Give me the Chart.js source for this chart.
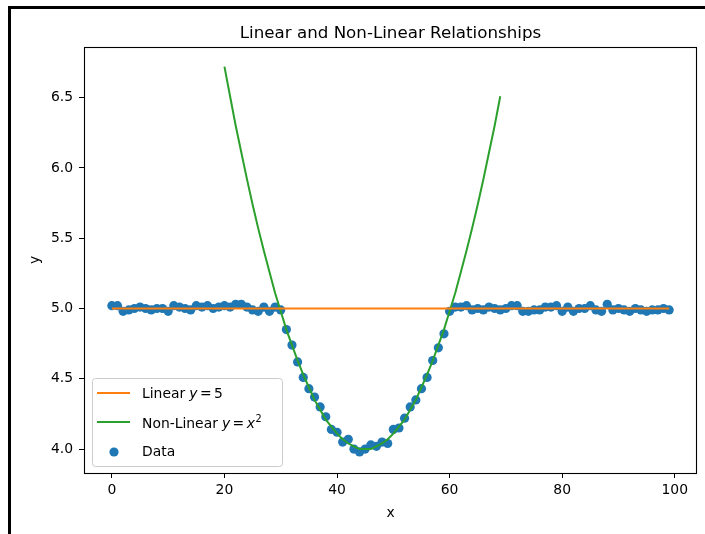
<!DOCTYPE html>
<html>
<head>
<meta charset="utf-8">
<style>
  html, body { margin: 0; padding: 0; background: #fff; }
  canvas { display: block; }
</style>
</head>
<body>
<canvas id="myChart" width="705" height="534"></canvas>
<script src="https://cdn.jsdelivr.net/npm/chart.js"></script>
<script>
/* Data */
const dataY = [
  5.02, 5.02, 4.98, 4.99, 5.00, 5.01, 5.00, 4.99, 5.00, 5.00,
  4.98, 5.02, 5.01, 5.00, 4.99, 5.02, 5.01, 5.02, 5.00, 5.01,
  5.02, 5.01, 5.03, 5.03, 5.01, 4.99, 4.98, 5.01, 4.98, 5.01,
  4.99, 4.85, 4.74, 4.62, 4.51, 4.43, 4.37, 4.30, 4.23, 4.14,
  4.12, 4.05, 4.07, 4.00, 3.98, 4.00, 4.03, 4.02, 4.05, 4.04,
  4.14, 4.15, 4.22, 4.30, 4.35, 4.43, 4.51, 4.63, 4.72, 4.82,
  4.98, 5.01, 5.01, 5.02, 4.99, 5.00, 4.99, 5.01, 5.00, 4.99,
  5.00, 5.02, 5.02, 4.98, 4.98, 4.99, 4.99, 5.01, 5.01, 5.02,
  4.98, 5.01, 4.98, 5.00, 5.00, 5.02, 4.99, 4.98, 5.03, 4.99,
  5.00, 4.99, 4.98, 5.00, 4.99, 4.98, 4.99, 4.99, 5.00, 4.99
];
const nonLinearStart = 20;
const nonLinearY = [
  6.72, 6.51, 6.30, 6.11, 5.92, 5.74, 5.57, 5.41, 5.26, 5.11,
  4.98, 4.85, 4.74, 4.63, 4.53, 4.44, 4.35, 4.28, 4.21, 4.16,
  4.11, 4.07, 4.04, 4.02, 4.00, 4.00, 4.00, 4.02, 4.04, 4.07,
  4.11, 4.16, 4.21, 4.28, 4.35, 4.44, 4.53, 4.63, 4.74, 4.85,
  4.98, 5.11, 5.26, 5.41, 5.57, 5.74, 5.92, 6.11, 6.30, 6.51
];
const linearX = [0, 99];
const linearY = [5, 5];
const xTicks = [0, 20, 40, 60, 80, 100];
const yTicks = [4.0, 4.5, 5.0, 5.5, 6.0, 6.5];
const titleText = 'Linear and Non-Linear Relationships';

const BLUE = '#1f77b4';
const ORANGE = '#ff7f0e';
const GREEN = '#2ca02c';
const FONT = '"DejaVu Sans", sans-serif';

/* Helpers */
function drawRuns(ctx, x, y, runs) {
  runs.forEach(function (run) {
    x += run.gap || 0;
    ctx.font = run.font;
    ctx.fillText(run.text, x, y - (run.raise || 0));
    x += ctx.measureText(run.text).width;
  });
}

const normal = '13.9px ' + FONT;
const italic = 'italic 13.9px ' + FONT;
const small = '9.7px ' + FONT;

/* Title, spines, legend and outer frame */
const decorPlugin = {
  id: 'decor',
  beforeDraw: function (chart) {
    const ctx = chart.ctx;
    ctx.save();
    ctx.fillStyle = '#fff';
    ctx.fillRect(0, 0, chart.width, chart.height);
    ctx.restore();
  },
  afterDraw: function (chart) {
    const ctx = chart.ctx;
    const a = chart.chartArea;
    ctx.save();

    // axes box
    ctx.strokeStyle = '#000';
    ctx.lineWidth = 1.1;
    ctx.strokeRect(Math.round(a.left) + 0.5, Math.round(a.top) + 0.5,
      Math.round(a.right - a.left) - 1, Math.round(a.bottom - a.top));

    // title
    ctx.fillStyle = '#000';
    ctx.font = '16.7px ' + FONT;
    ctx.textAlign = 'center';
    ctx.textBaseline = 'alphabetic';
    ctx.fillText(titleText, (a.left + a.right) / 2, 38);

    // legend
    const lx = 92, ly = 378, lw = 190, lh = 88;
    ctx.beginPath();
    ctx.roundRect(lx + 0.5, ly + 0.5, lw, lh, 3);
    ctx.fillStyle = 'rgba(255,255,255,0.8)';
    ctx.fill();
    ctx.strokeStyle = '#cccccc';
    ctx.lineWidth = 1;
    ctx.stroke();

    ctx.lineWidth = 2;
    ctx.strokeStyle = ORANGE;
    ctx.beginPath();
    ctx.moveTo(97, 393);
    ctx.lineTo(130, 393);
    ctx.stroke();
    ctx.strokeStyle = GREEN;
    ctx.beginPath();
    ctx.moveTo(97, 422);
    ctx.lineTo(130, 422);
    ctx.stroke();
    ctx.fillStyle = BLUE;
    ctx.beginPath();
    ctx.arc(114, 452, 4.6, 0, Math.PI * 2);
    ctx.fill();

    ctx.fillStyle = '#000';
    ctx.textAlign = 'left';
    drawRuns(ctx, 142, 398, [
      {text: 'Linear', font: normal},
      {text: 'y', font: italic, gap: 4},
      {text: '=', font: normal, gap: 2.5},
      {text: '5', font: normal, gap: 2.5}
    ]);
    drawRuns(ctx, 142, 428, [
      {text: 'Non-Linear', font: normal},
      {text: 'y', font: italic, gap: 4},
      {text: '=', font: normal, gap: 2.5},
      {text: 'x', font: italic, gap: 2.5},
      {text: '2', font: small, gap: 0.5, raise: 6}
    ]);
    drawRuns(ctx, 142, 456, [
      {text: 'Data', font: normal}
    ]);

    // outer frame
    ctx.strokeStyle = '#000';
    ctx.lineWidth = 3;
    ctx.beginPath();
    ctx.moveTo(chart.width, 7.5);
    ctx.lineTo(9.5, 7.5);
    ctx.lineTo(9.5, chart.height);
    ctx.stroke();
    ctx.restore();
  }
};

/* MyChart */
const ctx = document.getElementById('myChart').getContext('2d');

// eslint-disable-next-line no-undef
const chart = new Chart(ctx, {
  type: 'scatter',
  data: {
    datasets: [{
      label: 'Linear',
      data: linearX.map(function (x, i) { return {x: x, y: linearY[i]}; }),
      showLine: true,
      borderColor: ORANGE,
      borderWidth: 2,
      pointRadius: 0,
      fill: false
    },
    {
      label: 'Non-Linear',
      data: nonLinearY.map(function (y, i) { return {x: nonLinearStart + i, y: y}; }),
      showLine: true,
      borderColor: GREEN,
      borderWidth: 2,
      pointRadius: 0,
      fill: false
    },
    {
      label: 'Data',
      data: dataY.map(function (y, i) { return {x: i, y: y}; }),
      backgroundColor: BLUE,
      borderColor: BLUE,
      borderWidth: 0,
      pointRadius: 4.6
    }]
  },
  options: {
    responsive: false,
    animation: false,
    devicePixelRatio: 1,
    layout: {
      padding: {top: 47, right: 8, left: 0, bottom: 0}
    },
    plugins: {
      legend: {display: false},
      tooltip: {enabled: false},
      title: {display: false}
    },
    scales: {
      x: {
        type: 'linear',
        min: -4.95,
        max: 103.95,
        afterBuildTicks: function (scale) {
          scale.ticks = xTicks.map(function (v) { return {value: v}; });
        },
        afterFit: function (scale) { scale.height = 61; },
        border: {display: false},
        grid: {
          drawOnChartArea: false,
          drawTicks: true,
          tickLength: 5,
          tickColor: '#000',
          lineWidth: 1
        },
        ticks: {
          color: '#000',
          font: {family: FONT, size: 13.9},
          padding: 4,
          maxRotation: 0,
          callback: function (v) { return String(v); }
        },
        title: {
          display: true,
          text: 'x',
          color: '#000',
          font: {family: FONT, size: 13.9},
          padding: {top: 0, bottom: 12}
        }
      },
      y: {
        type: 'linear',
        min: 3.83,
        max: 6.86,
        afterBuildTicks: function (scale) {
          scale.ticks = yTicks.map(function (v) { return {value: v}; });
        },
        afterFit: function (scale) { scale.width = 84; },
        border: {display: false},
        grid: {
          drawOnChartArea: false,
          drawTicks: true,
          tickLength: 5,
          tickColor: '#000',
          lineWidth: 1
        },
        ticks: {
          color: '#000',
          font: {family: FONT, size: 13.9},
          padding: 6,
          callback: function (v) { return v.toFixed(1); }
        },
        title: {
          display: true,
          text: 'y',
          color: '#000',
          font: {family: FONT, size: 13.9},
          padding: {top: 27, bottom: 0}
        }
      }
    }
  },
  plugins: [decorPlugin]
});
</script>
</body>
</html>
